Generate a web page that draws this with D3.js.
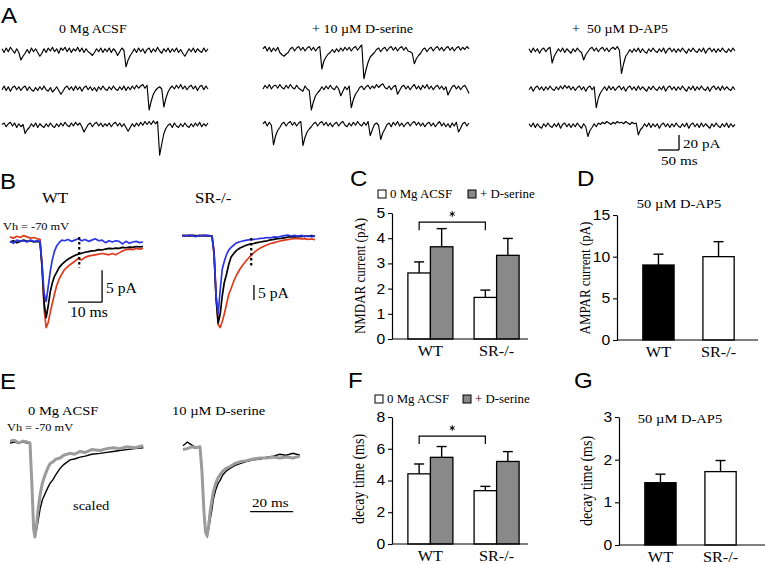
<!DOCTYPE html>
<html>
<head>
<meta charset="utf-8">
<script src="https://cdn.jsdelivr.net/npm/d3@7"></script>
<style>
  html, body { margin: 0; padding: 0; background: #fff; }
  svg { display: block; }
  text { white-space: pre; }
</style>
</head>
<body>
<svg id="fig" width="765" height="564"></svg>
<script>
// ---------- data ----------
// A: spontaneous currents, pA relative to baseline, one sample every 5 ms
const sampleMs = 5;
const ctrlTraces = [
  [3,-2,4,-1,5,1,-3,3,-2,-12, -7,-3,2,-3,4,-1,3,-2,-7,-3, 3,-2,4,0,5,-1,3,-3,4,1, 5,-1,4,-2,3,0,5,-1,4,-2,
   3,-1,-3,-6,-2,3,-1,4,-2,3, -1,4,-2,3,0,-6,-1,4,1,-21, -12,-6,-2,3,-2,4,-1,3,-3,2, 4,-2,3,-1,5,0,-3,3,-1,4,
   -2,3,-1,4,-2,2,-3,-7,-2,3, -1,4,-2,3,0,-2,4,-1,3],
  [-1,4,-2,3,-3,2,4,-1,3,-2, 2,4,-2,3,-1,-3,2,-2,3,-1, 4,-1,-3,2,-4,-1,3,-2,-7,-3, 2,4,-1,3,-2,4,-1,3,-3,2,
   4,-1,3,-2,2,-3,3,-1,4,0, -2,3,-1,4,0,-2,3,-1,4,-2, 3,-1,4,0,5,1,4,6,1,5, -28,-16,-7,-2,1,3,0,-24,-12,-4,
   1,4,0,5,1,6,0,4,-1,3, 5,0,4,-2,3,5,-1,4,0],
  [2,4,-1,3,5,0,4,-2,3,-1, 2,-10,-5,-2,3,-1,4,-2,3,0, -2,3,-1,4,0,-2,3,-1,4,0, 5,1,-1,4,0,5,1,4,-1,-8,
   -3,2,4,-1,3,5,0,4,-1,3, 0,4,-1,3,5,0,4,-1,3,-2, -7,-2,3,-1,4,0,5,1,6,2, 6,2,7,3,6,-39,-24,-10,-3,1,
   3,-2,4,0,-2,3,-1,4,0,-2, 3,-1,4,0,5,-1,3,0,4]
];
const dserTraces = [
  [3,6,0,5,-1,4,0,5,-2,-5, -7,-4,-2,3,5,0,4,6,1,5, 0,4,6,1,5,0,4,6,-24,-13, -8,-4,-2,2,-2,3,-1,4,0,5,
   1,5,0,4,6,1,5,8,-37,-25, -15,-8,-5,-2,2,4,-1,3,5,0, 4,6,1,5,0,4,6,1,5,0, -1,-3,-17,-10,-6,-3,2,4,-1,3,
   5,0,4,6,1,5,0,4,6,1, 5,0,4,6,1,5,2,6,3],
  [0,5,1,6,0,4,5,1,6,2, 0,5,1,6,2,0,5,1,-1,-3, 4,0,-2,-28,-17,-9,-5,-2,3,-1, 4,0,5,1,-1,4,0,-9,-3,3,
   -1,4,-25,-14,-7,-3,2,4,-1,3, 5,0,4,1,6,2,5,7,2,0, 4,-1,3,5,-7,-2,3,5,0,4, -1,3,6,0,4,-1,5,1,6,0,
   4,-1,3,5,0,4,-1,3,-8,-2, 3,5,0,4,-1,3,5,0,-6],
  [3,6,0,5,1,-25,-13,-6,-2,3, 5,0,4,6,1,5,0,4,6,-26, -15,-8,-4,-1,3,5,0,4,6,1, 5,0,4,-1,3,5,0,4,6,1,
   -1,4,0,5,1,6,2,0,5,1, 6,-13,-5,2,4,1,-18,-9,-4,2, 4,-1,5,1,6,0,4,-1,3,5, 0,4,6,1,5,0,4,-1,3,5,
   0,4,-1,3,6,0,4,-1,3,-2, 4,0,5,-8,-3,3,5,0,4]
];
const ap5Traces = [
  [3,-2,4,-1,3,-3,2,4,-1,3, 5,-16,-7,-2,3,-1,4,-2,3,0, -3,3,-1,4,0,-2,-12,-5,-1,3, 5,0,4,-1,3,5,0,4,-1,3,
   5,2,6,1,-30,-17,-7,-3,2,-2, 3,-1,4,-2,3,-1,-3,3,-1,4, 0,-2,3,-1,4,-3,2,4,-1,3, -2,3,-1,4,0,-3,3,-1,4,0,
   -2,3,-1,4,-3,2,4,-1,3,-2, 3,-1,4,0,-2,3,-1,4,0],
  [-1,3,-3,2,4,-1,3,-2,3,-1, 4,0,-2,3,-1,4,0,5,1,4, -1,3,-2,2,4,-1,3,-3,2,4, -1,3,-25,-12,-5,-1,3,-2,4,-1,
   3,-2,2,4,-1,3,-3,2,4,-1, 3,-2,4,-1,3,0,-3,3,-1,4, 0,-2,3,-1,4,-3,2,4,-1,3, -2,3,-1,4,0,-3,3,-1,4,-2,
   3,-1,4,0,-2,3,-3,2,4,-1, 3,-2,4,-1,3,0,-2,3,-1],
  [3,-1,4,-2,3,-1,-3,3,-1,4, 0,-2,3,-1,4,-3,2,4,-1,3, -2,3,-1,4,0,-3,3,-1,-14,-6, -2,3,-1,4,2,5,3,6,4,2,
   5,3,6,4,5,3,6,4,2,5, 3,4,-12,-5,-2,3,-1,4,-2,3, -1,3,-3,2,4,-1,3,-2,3,-1, 4,0,-2,3,-1,4,-3,2,4,-1,
   3,-2,4,-1,3,0,-3,3,-1,4, 0,-2,3,-1,4,-2,3,-1,2]
];
const aTitles = ["0 Mg ACSF", "+ 10 \u00B5M D-serine", "+  50 \u00B5M D-AP5"];

// B: averaged EPSCs (ms, pA)
const pscTime = [0,1,2,3,4,5,6,7,8, 8.8,9.4,10,10.6,11.2,11.8,12.4,13,13.7,14.4,15.2,
  16,17,18,19,20,21,22,23,24,25,26,27,28,29,30,31,32,33,34,35,36,37,38,39];
const wtBlue  = [0.1,-0.2,0.3,0.1,0.2,0.0,0.3,0.1,0.2, 0.1,-3.5,-8.0,-9.3,-7.0,-4.6,-2.8,-1.5,-0.6,-0.1,0.3,
  0.2,0.4,0.1,0.3,0.5,0.2,0.4,0.1,0.3,0.5,0.2,0.3,-0.1,0.2,0.0,0.2,0.1,-0.3,0.1,-0.2,0.0,0.1,-0.1,0.0];
const wtBlack = [0.0,0.2,-0.1,0.1,0.3,0.1,0.2,0.0,0.1, 0.0,-4.0,-9.5,-11.8,-10.0,-7.8,-6.4,-5.4,-4.7,-4.0,-3.5,
  -3.1,-2.7,-2.4,-2.1,-1.9,-1.75,-1.6,-1.5,-1.4,-1.35,-1.2,-1.25,-1.1,-1.0,-1.05,-0.95,-1.0,-0.85,-0.9,-0.8,-0.85,-0.7,-0.75,-0.7];
const wtRed   = [0.8,0.6,0.9,0.7,1.0,0.8,0.6,0.7,0.5, 0.4,-3.5,-10.5,-13.4,-12.6,-11.0,-9.6,-8.2,-6.8,-5.8,-5.0,
  -4.3,-3.8,-3.4,-3.0,-2.6,-2.8,-2.4,-2.2,-2.1,-2.0,-1.9,-1.8,-1.9,-2.0,-1.8,-2.0,-1.7,-1.4,-1.2,-1.1,-1.2,-1.0,-1.1,-1.0];
const srBlue  = [0.2,0.0,0.3,0.1,-0.2,0.2,0.0,0.3,0.1, 0.0,-6,-20,-26,-18,-11,-8.5,-6.3,-4.7,-3.8,-3.0,
  -2.3,-1.9,-1.6,-1.4,-1.2,-1.1,-1.0,-0.8,-0.7,-0.5,-0.6,-0.3,-0.4,-0.1,0.1,0.3,0.0,0.2,-0.1,0.2,-0.2,0.1,-0.3,0.0];
const srBlack = [0.1,0.2,0.0,0.2,0.1,0.0,0.2,0.1,0.0, 0.0,-6,-21,-29,-26,-20,-15.5,-13,-9.5,-7,-5.8,
  -4.8,-4.0,-3.5,-3.0,-2.7,-2.5,-2.2,-2.0,-1.8,-1.6,-1.3,-1.1,-0.9,-0.8,-0.6,-0.4,-0.2,-0.3,-0.1,-0.2,0.0,-0.1,0.1,-0.1];
const srRed   = [0.1,0.0,0.2,0.1,0.0,0.2,0.1,0.0,0.1, 0.0,-5,-20,-29.5,-30.5,-28.5,-26,-23,-19.5,-17.5,-15,
  -13,-11,-9.4,-8.0,-6.8,-5.6,-4.7,-4.0,-3.4,-2.9,-2.5,-2.2,-1.9,-1.6,-1.4,-1.2,-1.0,-0.9,-0.8,-1.0,-0.9,-1.1,-1.0,-1.2];
const dotTime = 20.3;
const wtDot = [0.8, -4];     // pA range of dotted marker
const srDot = [-0.7, -10.7];

// E: scaled EPSCs (ms, normalised)
const eTimeL  = [0,2,4,6,8,9.3, 10.2,11,11.6,12.3,13,14,15,16.3,17.5,18.6, 20,21.5,23.3,25,27.9,30,32.6,35,38,41.9, 45,48,51,54.3,58,62];
const eGrayL  = [0.02,0.03,0.0,0.02,0.01,0.0, -0.45,-0.92,-1.0,-0.88,-0.72,-0.55,-0.43,-0.34,-0.27,-0.22,
  -0.2,-0.17,-0.16,-0.13,-0.11,-0.12,-0.09,-0.1,-0.07,-0.08, -0.06,-0.05,-0.06,-0.04,-0.05,-0.03];
const eBlackL = [0.0,0.01,0.0,0.01,0.0,0.0, -0.45,-0.92,-1.0,-0.93,-0.84,-0.70,-0.61,-0.54,-0.48,-0.43,
  -0.39,-0.33,-0.27,-0.23,-0.18,-0.17,-0.15,-0.14,-0.12,-0.11, -0.10,-0.09,-0.08,-0.07,-0.06,-0.05];
const eTimeR  = [0,2,4,6,7.9, 8.8,9.8,10.5,11.2,11.9,12.6,13.5,14.1,15.2,16.3, 17.2,18.5,20,21.9,24,26.5,29,32.7,36,39, 42,45,48,51.2,54.4];
const eBlackR = [-0.03,0.01,-0.02,-0.05,-0.04, -0.3,-0.75,-0.95,-0.99,-0.92,-0.82,-0.7,-0.6,-0.5,-0.43,
  -0.4,-0.34,-0.3,-0.27,-0.24,-0.22,-0.2,-0.18,-0.17,-0.15, -0.14,-0.12,-0.13,-0.11,-0.13];
const eGrayR  = [-0.07,-0.06,-0.04,-0.05,-0.04, -0.3,-0.75,-0.95,-0.99,-0.88,-0.74,-0.6,-0.52,-0.43,-0.37,
  -0.34,-0.3,-0.27,-0.25,-0.22,-0.2,-0.19,-0.17,-0.16,-0.16, -0.15,-0.16,-0.15,-0.16,-0.14];

// C, D, F, G: bar data (WT, SR-/-)
const groups = ["WT", "SR-/-"];
const legendLabels = ["0 Mg ACSF", "+ D-serine"];
const nmdaCtrl = [2.62, 1.65], nmdaCtrlErr = [0.44, 0.29];
const nmdaDser = [3.66, 3.32], nmdaDserErr = [0.72, 0.67];
const ampaMean = [9.0, 10.0],  ampaErr = [1.3, 1.8];
const decayCtrl = [4.42, 3.36], decayCtrlErr = [0.62, 0.27];
const decayDser = [5.46, 5.2],  decayDserErr = [0.68, 0.62];
const decayAp5 = [1.46, 1.72],  decayAp5Err = [0.2, 0.26];

// ---------- drawing ----------
const SERIF = "'Liberation Serif', 'Times New Roman', serif";
const SANS = "'Liberation Sans', Arial, sans-serif";
const SX = 1.12; // figure is slightly stretched horizontally
const GRAY = "#898989";
const BLUE = "#2a35e6", RED = "#de3a1c";
const svg = d3.select("#fig");

function txt(x, y, s, { font = SERIF, size = 13, anchor = "start", rotate = false } = {}) {
  return svg.append("text")
    .attr("transform", rotate
      ? `translate(${x},${y}) rotate(-90) scale(1,${SX})`
      : `translate(${x},${y}) scale(${SX},1)`)
    .attr("font-family", font)
    .attr("font-size", size)
    .attr("text-anchor", anchor)
    .attr("fill", "#000")
    .text(s);
}

function seg(g, x1, y1, x2, y2, w = 1.2) {
  return g.append("line").attr("x1", x1).attr("y1", y1).attr("x2", x2).attr("y2", y2)
    .attr("stroke", "#000").attr("stroke-width", w);
}

// panel letters
[["A", 1, 23], ["B", 0, 189], ["C", 350, 186], ["D", 577, 186],
 ["E", 0, 389], ["F", 348, 388], ["G", 574, 388]]
  .forEach(([l, x, y]) => txt(x, y, l, { font: SANS, size: 21.5 }));

// ---- A ----
const xA = d3.scaleLinear().domain([0, 490]).range([0, 206]);
const yA = d3.scaleLinear().domain([0, 20]).range([0, -15]);
const lineA = d3.line().x((d, i) => xA(i * sampleMs)).y(d => yA(d));
const rowY = [51, 89, 126];
[[ctrlTraces, 2, 59], [dserTraces, 263, 312], [ap5Traces, 529, 572]].forEach(([traces, x0, tx], k) => {
  txt(tx, 33, aTitles[k], { size: 12.5 });
  traces.forEach((tr, r) => {
    svg.append("path")
      .attr("transform", `translate(${x0},${rowY[r]})`)
      .attr("d", lineA(tr))
      .attr("fill", "none").attr("stroke", "#000").attr("stroke-width", 1.15)
      .attr("stroke-linejoin", "round");
  });
});
{
  const g = svg.append("g").attr("transform", "translate(658,150)");
  seg(g, xA(0), yA(0), xA(50), yA(0), 1.3);
  seg(g, xA(50), yA(0), xA(50), yA(20), 1.3);
  txt(683, 148, "20 pA", { size: 13.5 });
  txt(661, 165, "50 ms", { size: 13.5 });
}

// ---- B ----
const pscX = d3.scaleLinear().domain([0, 39]).range([0, 133]);
function pscPanel(x0, y0, pxPerPA, traces, dot) {
  const y = d3.scaleLinear().domain([0, -1]).range([0, pxPerPA]);
  const line = d3.line().x((d, i) => pscX(pscTime[i])).y(d => y(d));
  const g = svg.append("g").attr("transform", `translate(${x0},${y0})`);
  traces.forEach(([vals, col]) => {
    g.append("path").attr("d", line(vals)).attr("fill", "none")
      .attr("stroke", col).attr("stroke-width", 1.7).attr("stroke-linejoin", "round");
  });
  g.append("line").attr("x1", pscX(dotTime)).attr("x2", pscX(dotTime))
    .attr("y1", y(dot[0])).attr("y2", y(dot[1]))
    .attr("stroke", "#000").attr("stroke-width", 2.2).attr("stroke-dasharray", "2.5,2.5");
  return { g, y };
}
const wt = pscPanel(10, 242, 6.4, [[wtRed, RED], [wtBlack, "#000"], [wtBlue, BLUE]], wtDot);
const sr = pscPanel(182, 236, 3, [[srRed, RED], [srBlack, "#000"], [srBlue, BLUE]], srDot);
// scale bars: WT 10 ms / 5 pA, SR-/- 5 pA
seg(wt.g, pscX(17), wt.y(-9.4), pscX(27), wt.y(-9.4), 1.3);
seg(wt.g, pscX(27), wt.y(-9.4), pscX(27), wt.y(-4.4), 1.3);
seg(sr.g, pscX(21.1), sr.y(-21.3), pscX(21.1), sr.y(-16.3), 1.3);
txt(42, 203, "WT", { size: 15 });
txt(195, 203, "SR-/-", { size: 15 });
txt(3, 230, "Vh = -70 mV", { size: 11 });
txt(106, 293, "5 pA", { size: 14 });
txt(70, 317, "10 ms", { size: 14 });
txt(258, 298, "5 pA", { size: 14 });

// ---- E ----
const eX = d3.scaleLinear().domain([0, 62]).range([0, 133.3]);
const eY = d3.scaleLinear().domain([0, -1]).range([0, 94]);
function ePanel(x0, times, black, gray) {
  const line = d3.line().x((d, i) => eX(times[i])).y(d => eY(d));
  const g = svg.append("g").attr("transform", `translate(${x0},443)`);
  g.append("path").attr("d", line(black)).attr("fill", "none").attr("stroke", "#000").attr("stroke-width", 1.4);
  g.append("path").attr("d", line(gray)).attr("fill", "none").attr("stroke", "#9b9b9b")
    .attr("stroke-width", 3).attr("stroke-linejoin", "round");
  return g;
}
ePanel(10, eTimeL, eBlackL, eGrayL);
const eR = ePanel(183, eTimeR, eBlackR, eGrayR);
seg(eR, eX(31.2), eY(-0.73), eX(51.2), eY(-0.73), 1.3);
txt(28, 415, "0 Mg ACSF", { size: 13 });
txt(172, 415, "10 \u00B5M D-serine", { size: 13 });
txt(7, 431, "Vh = -70 mV", { size: 11 });
txt(73, 510, "scaled", { size: 13 });
txt(252, 507, "20 ms", { size: 13.5 });

// ---- bar charts ----
function barChart({ yDomain, yTicks, yZero, yTop, axisX, xEnd, axisEnd, padIn, padOut, series }) {
  const y = d3.scaleLinear().domain(yDomain).range([yZero, yTop]);
  const x = d3.scaleBand().domain(groups).range([axisX, xEnd]).paddingInner(padIn).paddingOuter(padOut);
  const sub = d3.scaleBand().domain(d3.range(series.length)).range([0, x.bandwidth()]);
  const g = svg.append("g");
  series.forEach((s, k) => {
    groups.forEach((name, i) => {
      const bx = x(name) + sub(k), bw = sub.bandwidth(), cx = bx + bw / 2;
      const v = s.mean[i], top = v + s.err[i];
      seg(g, cx, y(v), cx, y(top), 1.4);
      seg(g, cx - 5, y(top), cx + 5, y(top), 1.4);
      g.append("rect").attr("x", bx).attr("y", y(v)).attr("width", bw).attr("height", y(0) - y(v))
        .attr("fill", s.fill[i]).attr("stroke", "#000").attr("stroke-width", 1.3);
    });
  });
  const ax = g.append("g").attr("transform", `translate(${axisX},0)`)
    .call(d3.axisLeft(y).tickValues(yTicks).tickFormat(d3.format("d"))
      .tickSize(4).tickPadding(2).tickSizeOuter(0));
  ax.select(".domain").attr("stroke-width", 1.2);
  ax.selectAll(".tick line").attr("stroke-width", 1.1);
  ax.selectAll("text").attr("font-family", SANS).attr("font-size", 14).attr("fill", "#000")
    .attr("transform", `scale(${SX},1)`);
  seg(g, axisX, y(0), axisEnd, y(0), 1.2);
  groups.forEach(name => txt(x(name) + x.bandwidth() / 2, y(0) + 17, name, { size: 14.5, anchor: "middle" }));
  return { g, x, y, sub };
}
function bracket(c, level, drop, starY) {
  const cx = groups.map(n => c.x(n) + c.sub(0) + c.sub.bandwidth() / 2);
  c.g.append("path")
    .attr("d", `M${cx[0]},${c.y(level - drop)}V${c.y(level)}H${cx[1]}V${c.y(level - drop)}`)
    .attr("fill", "none").attr("stroke", "#000").attr("stroke-width", 1.2);
  // significance star
  c.g.append("path")
    .attr("transform", `translate(${(cx[0] + cx[1]) / 2},${starY})`)
    .attr("d", d3.symbol(d3.symbolAsterisk, 22)())
    .attr("fill", "none").attr("stroke", "#000").attr("stroke-width", 1);
}
function legend(x0, y0, gap) {
  [["#fff", legendLabels[0]], [GRAY, legendLabels[1]]].forEach(([f, l], i) => {
    svg.append("rect").attr("x", x0 + i * gap).attr("y", y0).attr("width", 8).attr("height", 8)
      .attr("fill", f).attr("stroke", "#000").attr("stroke-width", 1);
    txt(x0 + i * gap + 12, y0 + 8, l, { size: 11.5 });
  });
}

// C
const chartC = barChart({
  yDomain: [0, 5], yTicks: [0, 1, 2, 3, 4, 5], yZero: 339, yTop: 213,
  axisX: 392, xEnd: 535, axisEnd: 528, padIn: 0.32, padOut: 0.24,
  series: [{ mean: nmdaCtrl, err: nmdaCtrlErr, fill: ["#fff", "#fff"] },
           { mean: nmdaDser, err: nmdaDserErr, fill: [GRAY, GRAY] }]
});
bracket(chartC, 4.64, 0.32, 214);
legend(378, 190, 90);
txt(365, 276, "NMDAR current (pA)", { size: 13, anchor: "middle", rotate: true });

// D
barChart({
  yDomain: [0, 15], yTicks: [0, 5, 10, 15], yZero: 340, yTop: 215,
  axisX: 617, xEnd: 760, axisEnd: 758, padIn: 0.48, padOut: 0.43,
  series: [{ mean: ampaMean, err: ampaErr, fill: ["#000", "#fff"] }]
});
txt(679, 208, "50 \u00B5M D-AP5", { size: 13, anchor: "middle" });
txt(590, 278, "AMPAR current (pA)", { size: 13, anchor: "middle", rotate: true });

// F
const chartF = barChart({
  yDomain: [0, 8], yTicks: [0, 2, 4, 6, 8], yZero: 544, yTop: 417,
  axisX: 392, xEnd: 535, axisEnd: 528, padIn: 0.32, padOut: 0.24,
  series: [{ mean: decayCtrl, err: decayCtrlErr, fill: ["#fff", "#fff"] },
           { mean: decayDser, err: decayDserErr, fill: [GRAY, GRAY] }]
});
bracket(chartF, 6.8, 0.5, 428);
legend(375, 395, 88);
txt(364, 479, "decay time (ms)", { size: 14, anchor: "middle", rotate: true });

// G
barChart({
  yDomain: [0, 3], yTicks: [0, 1, 2, 3], yZero: 545, yTop: 417,
  axisX: 619, xEnd: 762, axisEnd: 765, padIn: 0.48, padOut: 0.43,
  series: [{ mean: decayAp5, err: decayAp5Err, fill: ["#000", "#fff"] }]
});
txt(680, 423, "50 \u00B5M D-AP5", { size: 13, anchor: "middle" });
txt(592, 481, "decay time (ms)", { size: 14, anchor: "middle", rotate: true });
</script>
</body>
</html>
